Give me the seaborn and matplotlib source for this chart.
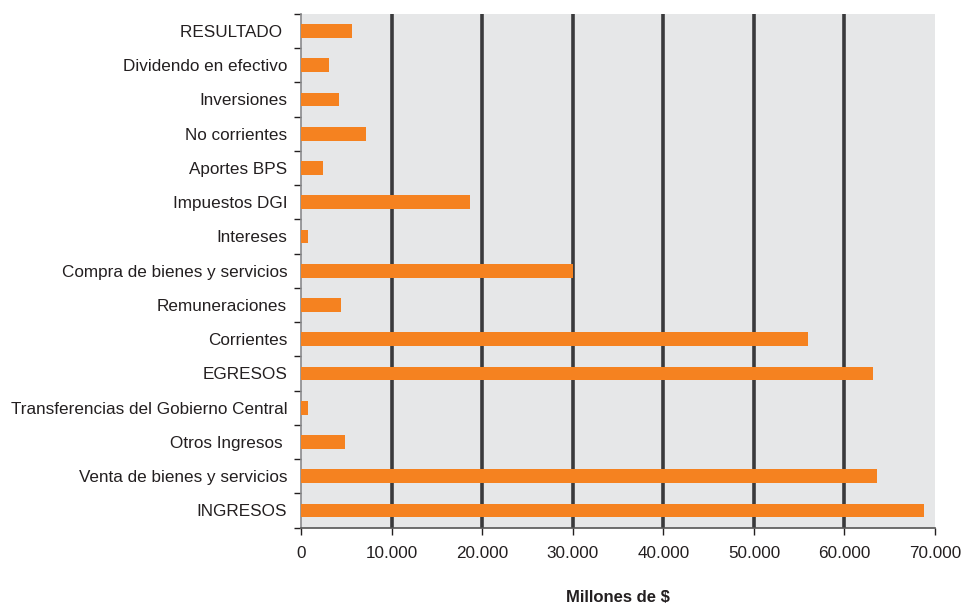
import numpy as np
import pandas as pd
import matplotlib
matplotlib.use("Agg")
import matplotlib.pyplot as plt
import seaborn as sns
from matplotlib.ticker import FuncFormatter, FixedLocator

categorias = ["RESULTADO ", "Dividendo en efectivo", "Inversiones", "No corrientes",
              "Aportes BPS", "Impuestos DGI", "Intereses", "Compra de bienes y servicios",
              "Remuneraciones", "Corrientes", "EGRESOS",
              "Transferencias del Gobierno Central", "Otros Ingresos ",
              "Venta de bienes y servicios", "INGRESOS"]
valores = [5650, 3100, 4200, 7200, 2450, 18700, 800, 30000,
           4380, 56000, 63150, 720, 4800, 63550, 68800]
xticks = [0, 10000, 20000, 30000, 40000, 50000, 60000, 70000]

df = pd.DataFrame({"categoria": categorias, "valor": valores})

sns.set_theme(style="white")
plt.rcParams["font.family"] = ["Liberation Sans", "DejaVu Sans"]

fig = plt.figure(figsize=(9.62, 6.03), dpi=100)
ax = fig.add_axes([0.313, 0.125, 0.659, 0.852])
ax.set_facecolor("#e6e7e8")

sns.barplot(data=df, x="valor", y="categoria", orient="h", order=categorias,
            color="#f58220", saturation=1, width=0.4, ax=ax, zorder=3,
            edgecolor="none", linewidth=0)

ax.set_xlim(0, 70000)
ax.set_ylim(len(categorias) - 0.5, -0.5)
ax.xaxis.set_major_locator(FixedLocator(xticks))
ax.xaxis.set_major_formatter(FuncFormatter(lambda v, p: f"{int(v):,}".replace(",", ".")))
for v in xticks[1:-1]:
    ax.axvline(v, color="#3a3a3c", lw=2.6, zorder=1)

ax.set_yticks(np.arange(len(categorias)))
ax.set_yticklabels(categorias)
ax.set_yticks(np.arange(-0.5, len(categorias)), minor=True)
ax.tick_params(left=True, bottom=True)
ax.tick_params(axis="y", which="major", length=0, pad=10, labelsize=12.3, labelcolor="#231f20")
ax.tick_params(axis="y", which="minor", left=True, length=5, width=1, color="#231f20", direction="out")
ax.tick_params(axis="x", which="major", length=5, width=1, color="#231f20", direction="out",
               labelsize=12.3, labelcolor="#231f20", pad=8)

for s in ["top", "right"]:
    ax.spines[s].set_visible(False)
ax.spines["left"].set_color("#8a8a8c")
ax.spines["left"].set_linewidth(1.2)
ax.spines["bottom"].set_color("#555555")
ax.spines["bottom"].set_linewidth(1.2)

ax.set_ylabel("")
ax.set_xlabel("Millones de $", fontsize=12, fontweight="bold", color="#231f20", labelpad=21)

fig.savefig("out.png", dpi=100)
